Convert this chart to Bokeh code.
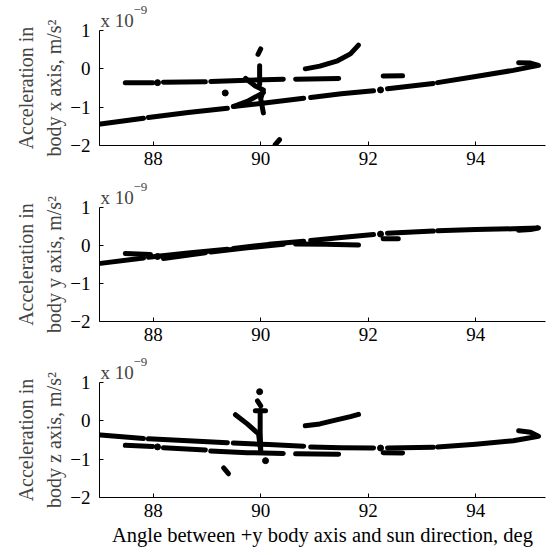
import numpy as np
from bokeh.plotting import figure
from bokeh.layouts import column
from bokeh.models import FixedTicker, Title
from bokeh.embed import file_html
from bokeh.resources import INLINE

# ---------------------------------------------------------------------------
# Data (accelerations in units of 1e-9 m/s^2, angles in deg)
# ---------------------------------------------------------------------------
# Angle samples of the main pass, split where the record has gaps
main_x = [[87.02, 87.82], [87.91, 88.65, 89.38], [89.49, 90.15, 90.80],
          [90.93, 91.50, 92.10], [92.36, 93.21],
          [93.29, 94.00, 94.70, 95.17, 95.02, 94.80]]
main_dot_x = [92.23]

# Angle samples of the secondary pass
side_x = [[87.48, 87.99], [88.19, 88.97], [89.07, 89.75, 90.42],
          [90.65, 91.45], [92.28, 92.64]]
side_dot_x = [88.08]

# Short arc after the slew
arc_x = [90.83, 91.10, 91.43, 91.67, 91.82]

# Body x axis
x_main_y = [[-1.44, -1.29], [-1.27, -1.14, -1.03], [-0.98, -0.88, -0.77],
            [-0.75, -0.65, -0.57], [-0.52, -0.38],
            [-0.36, -0.20, -0.04, 0.09, 0.15, 0.16]]
x_main_dot_y = [-0.55]
x_side_y = [[-0.36, -0.36], [-0.35, -0.34], [-0.33, -0.30, -0.27],
            [-0.27, -0.25], [-0.19, -0.18]]
x_side_dot_y = [-0.36]
x_arc_y = [0.0, 0.07, 0.21, 0.39, 0.62]
x_burst_x = [[89.50, 89.75, 90.05], [89.72, 89.90, 90.05, 90.00, 90.05],
             [89.98, 89.98], [89.95, 90.00], [90.27, 90.35]]
x_burst_y = [[-0.98, -0.85, -0.62], [-0.25, -0.45, -0.55, -0.78, -1.15],
             [0.08, -0.40], [0.38, 0.52], [-1.98, -1.85]]
x_burst_dot_x = [89.34]
x_burst_dot_y = [-0.63]

# Body y axis (the secondary pass runs a little longer here)
y_main_y = [[-0.47, -0.33], [-0.31, -0.20, -0.10], [-0.08, 0.03, 0.11],
            [0.13, 0.21, 0.29], [0.32, 0.38],
            [0.39, 0.42, 0.44, 0.46, 0.42, 0.40]]
y_main_dot_y = [0.30]
y_side_x = [[87.48, 87.95], [88.19, 88.97], [89.07, 89.75, 90.42],
            [90.65, 91.20, 91.82], [92.28, 92.56]]
y_side_y = [[-0.21, -0.24], [-0.34, -0.19], [-0.17, -0.06, 0.03],
            [0.04, 0.03, 0.01], [0.18, 0.18]]
y_side_dot_y = [-0.29]

# Body z axis
z_main_y = [[-0.37, -0.46], [-0.47, -0.52, -0.57], [-0.58, -0.62, -0.66],
            [-0.68, -0.70, -0.71], [-0.71, -0.69],
            [-0.68, -0.61, -0.52, -0.40, -0.30, -0.26]]
z_main_dot_y = [-0.71]
z_side_y = [[-0.64, -0.67], [-0.70, -0.76], [-0.79, -0.83, -0.85],
            [-0.86, -0.87], [-0.83, -0.84]]
z_side_dot_y = [-0.68]
z_arc_y = [-0.13, -0.08, 0.03, 0.11, 0.17]
z_burst_x = [[89.94, 90.00], [89.99, 89.99, 90.00],
             [89.53, 89.75, 89.96, 90.00], [89.31, 89.40], [89.90, 90.09]]
z_burst_y = [[0.52, 0.39], [0.26, -0.30, -0.75],
             [0.16, -0.08, -0.34, -0.78], [-1.23, -1.38], [0.26, 0.26]]
z_burst_dot_x = [89.98, 90.09]
z_burst_dot_y = [0.76, -1.04]

x_ticks = [88, 90, 92, 94]
y_ticks = [-2, -1, 0, 1]
y_tick_labels = {-2: "\u22122", -1: "\u22121", 0: "0", 1: "1"}

FONT = "Liberation Serif"
MARK_W = 5


def panel(axis_name, height, top, bottom, segs_x, segs_y, dots_x, dots_y,
          x_title=None):
    p = figure(width=555, height=height, x_range=(87.0, 95.3), y_range=(-2, 1),
               output_backend="svg", toolbar_location=None, title=None,
               min_border_left=99, min_border_right=10,
               min_border_top=top, min_border_bottom=bottom)
    p.outline_line_color = None
    p.grid.visible = False
    p.background_fill_color = "white"

    for ax in (p.xaxis[0], p.yaxis[0]):
        ax.axis_line_color = "black"
        ax.axis_line_width = 1
        ax.major_tick_in = 4
        ax.major_tick_out = 0
        ax.major_tick_line_color = "black"
        ax.minor_tick_line_color = None
        ax.major_label_text_font = FONT
        ax.major_label_text_font_size = "19px"
        ax.major_label_text_color = "black"

    p.xaxis.ticker = FixedTicker(ticks=x_ticks)
    p.yaxis.ticker = FixedTicker(ticks=y_ticks)
    p.yaxis.major_label_overrides = y_tick_labels
    p.xaxis.major_label_standoff = 6
    p.yaxis.major_label_standoff = 9

    if x_title:
        p.xaxis.axis_label = x_title
        p.xaxis.axis_label_text_font = FONT
        p.xaxis.axis_label_text_font_size = "20.5px"
        p.xaxis.axis_label_text_font_style = "normal"
        p.xaxis.axis_label_text_color = "black"
        p.xaxis.axis_label_standoff = 4

    p.multi_line(xs=segs_x, ys=segs_y, line_color="black", line_width=MARK_W,
                 line_cap="round", line_join="round")
    p.scatter(x=dots_x, y=dots_y, size=MARK_W + 1, color="black")

    # two-line y-axis title (inner line first)
    p.add_layout(Title(text=f"body {axis_name} axis, m/s\u00b2", align="center",
                       text_font=FONT, text_font_size="20px",
                       text_font_style="normal", standoff=6), "left")
    p.add_layout(Title(text="Acceleration in", align="center",
                       text_font=FONT, text_font_size="20px",
                       text_font_style="normal", standoff=2), "left")

    # exponent marker above the axes
    p.add_layout(Title(text="x 10", align="left", offset=1,
                       text_font=FONT, text_font_size="19px",
                       text_font_style="normal", standoff=0), "above")
    p.add_layout(Title(text="\u22129", align="left", offset=34,
                       text_font=FONT, text_font_size="13px",
                       text_font_style="normal", standoff=-12), "above")
    return p


p1 = panel("x", 176, 30, 31,
           main_x + side_x + [arc_x] + x_burst_x,
           x_main_y + x_side_y + [x_arc_y] + x_burst_y,
           main_dot_x + side_dot_x + x_burst_dot_x,
           x_main_dot_y + x_side_dot_y + x_burst_dot_y)

p2 = panel("y", 176, 31, 31,
           main_x + y_side_x,
           y_main_y + y_side_y,
           main_dot_x + side_dot_x,
           y_main_dot_y + y_side_dot_y)

p3 = panel("z", 203, 30, 58,
           main_x + side_x + [arc_x] + z_burst_x,
           z_main_y + z_side_y + [z_arc_y] + z_burst_y,
           main_dot_x + side_dot_x + z_burst_dot_x,
           z_main_dot_y + z_side_dot_y + z_burst_dot_y,
           x_title="Angle between +y body axis and sun direction, deg")

layout = column(p1, p2, p3, spacing=0)
open("out.html", "w").write(file_html(layout, INLINE))
